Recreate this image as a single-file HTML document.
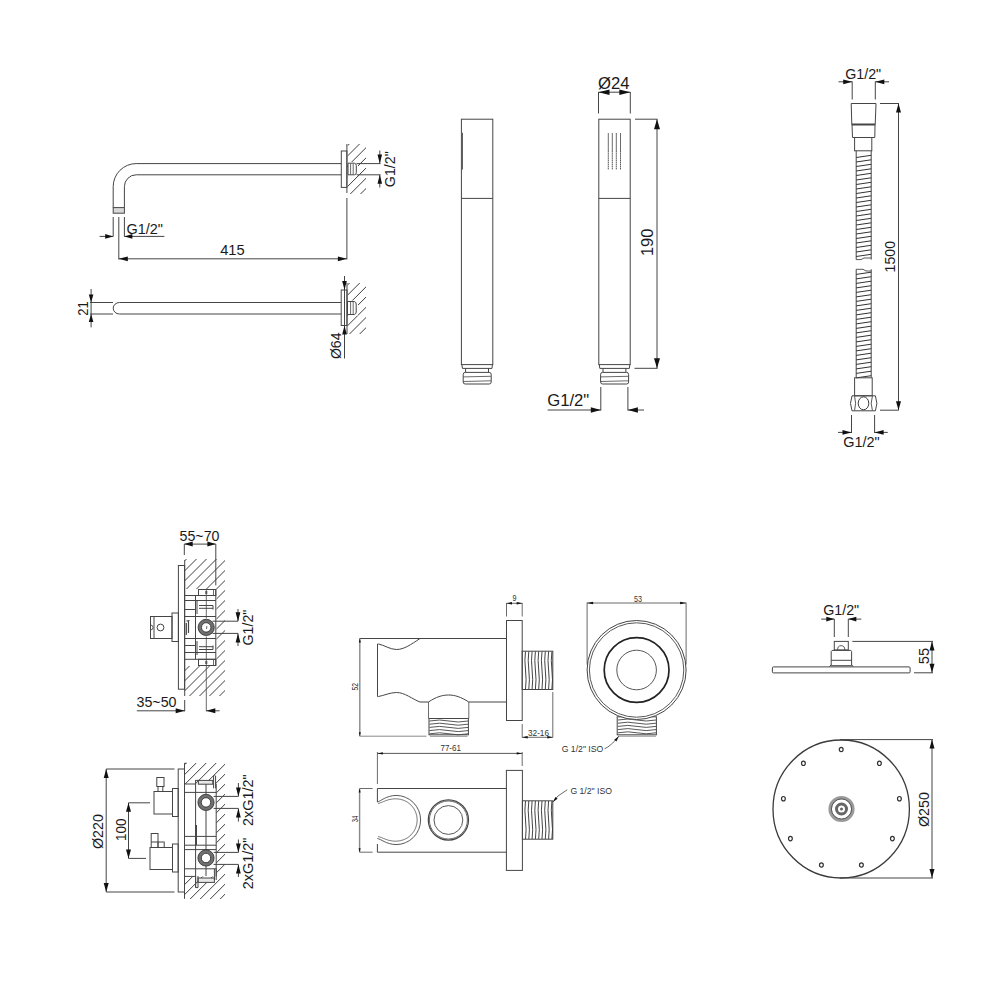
<!DOCTYPE html>
<html><head><meta charset="utf-8"><style>
html,body{margin:0;padding:0;background:#fff;}
svg{display:block;font-family:"Liberation Sans",sans-serif;}
</style></head><body>
<svg width="1000" height="1000" viewBox="0 0 1000 1000">
<defs><clipPath id="h1"><path d="M347.8,144 L366,144 L366,194 L347.8,194 Z M347,162 L347,176 L358,176 L358,162 Z" clip-rule="evenodd"/></clipPath><clipPath id="h2"><path d="M347.8,283 L366,283 L366,334 L347.8,334 Z M347,300.5 L347,315.5 L358,315.5 L358,300.5 Z" clip-rule="evenodd"/></clipPath><clipPath id="v1"><path d="M185,559 L225,559 L225,696 L185,696 Z M184,589 L216.5,589 L216.5,666 L184,666 Z" clip-rule="evenodd"/></clipPath><clipPath id="v2"><path d="M185,763 L225,763 L225,899 L185,899 Z M184,784 L216.3,784 L216.3,876.4 L184,876.4 Z" clip-rule="evenodd"/></clipPath></defs>
<rect x="0" y="0" width="1000" height="1000" fill="#fff"/>
<path d="M341.3,163.6 L136.2,163.6 A23,23 0 0 0 113.2,186.6 L113.2,207.6" fill="none" stroke="#454545" stroke-width="1.0"/>
<path d="M341.3,174.8 L136.2,174.8 A11.8,11.8 0 0 0 124.4,186.6 L124.4,207.6" fill="none" stroke="#454545" stroke-width="1.0"/>
<rect x="113.2" y="207.6" width="11.2" height="5.6" fill="#d8d8d8" stroke="#454545" stroke-width="1.0"/>
<rect x="341.3" y="151" width="5.6" height="36.4" fill="none" stroke="#454545" stroke-width="1.0"/>
<line x1="346.9" y1="144" x2="346.9" y2="193" stroke="#454545" stroke-width="1.0"/>
<line x1="346.9" y1="198" x2="346.9" y2="259.5" stroke="#454545" stroke-width="1.0"/>
<path d="M348,163.2 L354.5,163.2 Q356.3,163.5 356.3,165.5 L356.3,172.6 Q356.3,174.6 354.5,174.8 L348,174.8 Z" fill="none" stroke="#454545" stroke-width="1.0"/>
<line x1="350.6" y1="163.8" x2="350.6" y2="174.4" stroke="#454545" stroke-width="0.8"/>
<line x1="353.2" y1="163.8" x2="353.2" y2="174.4" stroke="#454545" stroke-width="0.8"/>
<g clip-path="url(#h1)">
<line x1="284.1" y1="199" x2="344.1" y2="139" stroke="#333" stroke-width="0.95"/>
<line x1="294.3" y1="199" x2="354.3" y2="139" stroke="#333" stroke-width="0.95"/>
<line x1="304.5" y1="199" x2="364.5" y2="139" stroke="#333" stroke-width="0.95"/>
<line x1="314.7" y1="199" x2="374.7" y2="139" stroke="#333" stroke-width="0.95"/>
<line x1="324.9" y1="199" x2="384.9" y2="139" stroke="#333" stroke-width="0.95"/>
<line x1="335.1" y1="199" x2="395.1" y2="139" stroke="#333" stroke-width="0.95"/>
<line x1="345.3" y1="199" x2="405.3" y2="139" stroke="#333" stroke-width="0.95"/>
<line x1="355.5" y1="199" x2="415.5" y2="139" stroke="#333" stroke-width="0.95"/>
<line x1="365.7" y1="199" x2="425.7" y2="139" stroke="#333" stroke-width="0.95"/>
</g>
<line x1="356.5" y1="163.6" x2="380.5" y2="163.6" stroke="#454545" stroke-width="1.0"/>
<line x1="356.5" y1="174.8" x2="380.5" y2="174.8" stroke="#454545" stroke-width="1.0"/>
<line x1="379.8" y1="150.5" x2="379.8" y2="163.6" stroke="#454545" stroke-width="1.0"/>
<line x1="379.8" y1="174.8" x2="379.8" y2="187.5" stroke="#454545" stroke-width="1.0"/>
<polygon points="379.8,163.6 377.5,154.6 382.1,154.6" fill="#111"/>
<polygon points="379.8,174.8 377.5,183.8 382.1,183.8" fill="#111"/>
<text x="389.5" y="174.42" font-size="14.5" text-anchor="middle" fill="#1a1a1a" textLength="36" lengthAdjust="spacingAndGlyphs" transform="rotate(-90 389.5 169.2)">G1/2&quot;</text>
<line x1="118.8" y1="217" x2="118.8" y2="259.5" stroke="#454545" stroke-width="1.0"/>
<line x1="118.8" y1="258.8" x2="346.9" y2="258.8" stroke="#454545" stroke-width="1.0"/>
<polygon points="118.8,258.8 127.8,256.4 127.8,261.2" fill="#111"/>
<polygon points="346.9,258.8 337.9,256.4 337.9,261.2" fill="#111"/>
<text x="232.4" y="254.8" font-size="14.5" text-anchor="middle" fill="#1a1a1a" textLength="24.5" lengthAdjust="spacingAndGlyphs">415</text>
<line x1="113.2" y1="217" x2="113.2" y2="236.5" stroke="#454545" stroke-width="1.0"/>
<line x1="124.4" y1="217" x2="124.4" y2="236.5" stroke="#454545" stroke-width="1.0"/>
<line x1="99.6" y1="236.4" x2="113.2" y2="236.4" stroke="#454545" stroke-width="1.0"/>
<line x1="124.4" y1="236.4" x2="164.4" y2="236.4" stroke="#454545" stroke-width="1.0"/>
<polygon points="113.2,236.4 105.2,234.1 105.2,238.7" fill="#111"/>
<polygon points="124.4,236.4 132.4,234.1 132.4,238.7" fill="#111"/>
<text x="126.5" y="234.2" font-size="14.5" text-anchor="start" fill="#1a1a1a" textLength="36.5" lengthAdjust="spacingAndGlyphs">G1/2&quot;</text>
<line x1="119.5" y1="302.5" x2="341.2" y2="302.5" stroke="#454545" stroke-width="1.0"/>
<line x1="119.5" y1="314" x2="341.2" y2="314" stroke="#454545" stroke-width="1.0"/>
<path d="M119.5,302.5 A6.3,5.75 0 0 0 119.5,314" fill="none" stroke="#454545" stroke-width="1.0"/>
<line x1="90" y1="302.5" x2="113" y2="302.5" stroke="#454545" stroke-width="1.0"/>
<line x1="90" y1="314" x2="113" y2="314" stroke="#454545" stroke-width="1.0"/>
<line x1="91.1" y1="289" x2="91.1" y2="327.4" stroke="#454545" stroke-width="1.0"/>
<polygon points="91.1,302.5 88.8,294.5 93.4,294.5" fill="#111"/>
<polygon points="91.1,314 88.8,322 93.4,322" fill="#111"/>
<text x="82.4" y="313.72" font-size="14.5" text-anchor="middle" fill="#1a1a1a" textLength="14.5" lengthAdjust="spacingAndGlyphs" transform="rotate(-90 82.4 308.5)">21</text>
<rect x="341.2" y="290" width="5.8" height="35.5" fill="none" stroke="#454545" stroke-width="1.0"/>
<line x1="347" y1="283" x2="347" y2="334" stroke="#454545" stroke-width="1.0"/>
<path d="M347.5,301.5 L354.3,301.5 Q356.2,302 356.2,304 L356.2,312 Q356.2,314 354.3,314.5 L347.5,314.5 Z" fill="none" stroke="#454545" stroke-width="1.0"/>
<line x1="350.6" y1="302" x2="350.6" y2="314" stroke="#454545" stroke-width="0.8"/>
<line x1="353.2" y1="302" x2="353.2" y2="314" stroke="#454545" stroke-width="0.8"/>
<g clip-path="url(#h2)">
<line x1="283.3" y1="339" x2="344.3" y2="278" stroke="#333" stroke-width="0.95"/>
<line x1="293.5" y1="339" x2="354.5" y2="278" stroke="#333" stroke-width="0.95"/>
<line x1="303.7" y1="339" x2="364.7" y2="278" stroke="#333" stroke-width="0.95"/>
<line x1="313.9" y1="339" x2="374.9" y2="278" stroke="#333" stroke-width="0.95"/>
<line x1="324.1" y1="339" x2="385.1" y2="278" stroke="#333" stroke-width="0.95"/>
<line x1="334.3" y1="339" x2="395.3" y2="278" stroke="#333" stroke-width="0.95"/>
<line x1="344.5" y1="339" x2="405.5" y2="278" stroke="#333" stroke-width="0.95"/>
<line x1="354.7" y1="339" x2="415.7" y2="278" stroke="#333" stroke-width="0.95"/>
<line x1="364.9" y1="339" x2="425.9" y2="278" stroke="#333" stroke-width="0.95"/>
</g>
<line x1="344.5" y1="276" x2="344.5" y2="358.5" stroke="#454545" stroke-width="1.0"/>
<polygon points="344.5,290 342.2,281 346.8,281" fill="#111"/>
<polygon points="344.5,325.5 342.2,334.5 346.8,334.5" fill="#111"/>
<text x="335.8" y="351.02" font-size="14.5" text-anchor="middle" fill="#1a1a1a" textLength="26.5" lengthAdjust="spacingAndGlyphs" transform="rotate(-90 335.8 345.8)">Ø64</text>
<rect x="461.4" y="119.2" width="31.4" height="245.4" fill="none" stroke="#454545" stroke-width="1.0"/>
<line x1="461.4" y1="198.4" x2="492.8" y2="198.4" stroke="#454545" stroke-width="1.0"/>
<path d="M461.9,364.6 L462.4,368.4 L492,368.4 L492.4,364.6" fill="none" stroke="#454545" stroke-width="1.0"/>
<line x1="465.6" y1="368.4" x2="465.6" y2="372.4" stroke="#454545" stroke-width="1.0"/>
<line x1="488.5" y1="368.4" x2="488.5" y2="372.4" stroke="#454545" stroke-width="1.0"/>
<rect x="463.2" y="372.4" width="28" height="11.6" fill="none" stroke="#454545" stroke-width="1.0" rx="2"/>
<line x1="463.4" y1="376.9" x2="490.9" y2="376.3" stroke="#454545" stroke-width="0.8"/>
<line x1="463.4" y1="381.5" x2="490.9" y2="380.8" stroke="#454545" stroke-width="0.8"/>
<line x1="462.2" y1="132.8" x2="462.2" y2="169.6" stroke="#606060" stroke-width="1.6"/>
<rect x="598.8" y="119.2" width="31.4" height="245.4" fill="none" stroke="#454545" stroke-width="1.0"/>
<line x1="598.8" y1="198.4" x2="630.2" y2="198.4" stroke="#454545" stroke-width="1.0"/>
<path d="M599.3,364.6 L599.8,368.4 L629.4,368.4 L629.8,364.6" fill="none" stroke="#454545" stroke-width="1.0"/>
<line x1="603" y1="368.4" x2="603" y2="372.4" stroke="#454545" stroke-width="1.0"/>
<line x1="625.9" y1="368.4" x2="625.9" y2="372.4" stroke="#454545" stroke-width="1.0"/>
<rect x="600.6" y="372.4" width="28" height="11.6" fill="none" stroke="#454545" stroke-width="1.0" rx="2"/>
<line x1="600.8" y1="376.9" x2="628.3" y2="376.3" stroke="#454545" stroke-width="0.8"/>
<line x1="600.8" y1="381.5" x2="628.3" y2="380.8" stroke="#454545" stroke-width="0.8"/>
<line x1="608.3" y1="133" x2="608.3" y2="151" stroke="#454545" stroke-width="0.8"/>
<line x1="608.3" y1="151" x2="608.3" y2="169.5" stroke="#454545" stroke-width="0.9" stroke-dasharray="1.6 0.5"/>
<line x1="612.3" y1="133" x2="612.3" y2="151" stroke="#454545" stroke-width="0.8"/>
<line x1="612.3" y1="151" x2="612.3" y2="169.5" stroke="#454545" stroke-width="0.9" stroke-dasharray="1.6 0.5"/>
<line x1="616.3" y1="133" x2="616.3" y2="151" stroke="#454545" stroke-width="0.8"/>
<line x1="616.3" y1="151" x2="616.3" y2="169.5" stroke="#454545" stroke-width="0.9" stroke-dasharray="1.6 0.5"/>
<line x1="620.5" y1="133" x2="620.5" y2="151" stroke="#454545" stroke-width="0.8"/>
<line x1="620.5" y1="151" x2="620.5" y2="169.5" stroke="#454545" stroke-width="0.9" stroke-dasharray="1.6 0.5"/>
<line x1="598.5" y1="92" x2="598.5" y2="113.5" stroke="#454545" stroke-width="1.0"/>
<line x1="630.3" y1="92" x2="630.3" y2="113.5" stroke="#454545" stroke-width="1.0"/>
<line x1="598.5" y1="92.2" x2="630.3" y2="92.2" stroke="#454545" stroke-width="1.0"/>
<polygon points="598.5,92.2 609.5,89.5 609.5,94.9" fill="#111"/>
<polygon points="630.3,92.2 619.3,89.5 619.3,94.9" fill="#111"/>
<text x="598" y="89" font-size="17" text-anchor="start" fill="#1a1a1a" textLength="31.5" lengthAdjust="spacingAndGlyphs">Ø24</text>
<line x1="635" y1="119.2" x2="657.5" y2="119.2" stroke="#454545" stroke-width="1.0"/>
<line x1="657" y1="119.2" x2="657" y2="368.3" stroke="#454545" stroke-width="1.0"/>
<line x1="634.5" y1="368.3" x2="657.6" y2="368.3" stroke="#454545" stroke-width="1.0"/>
<polygon points="657,119.2 654,129.2 660,129.2" fill="#111"/>
<polygon points="657,368.3 654,358.3 660,358.3" fill="#111"/>
<text x="647.2" y="248.42" font-size="17" text-anchor="middle" fill="#1a1a1a" textLength="27.5" lengthAdjust="spacingAndGlyphs" transform="rotate(-90 647.2 242.3)">190</text>
<line x1="600.8" y1="387" x2="600.8" y2="410.5" stroke="#454545" stroke-width="1.0"/>
<line x1="627.9" y1="387" x2="627.9" y2="410.5" stroke="#454545" stroke-width="1.0"/>
<line x1="547.6" y1="410" x2="600.8" y2="410" stroke="#454545" stroke-width="1.0"/>
<line x1="627.9" y1="410" x2="644" y2="410" stroke="#454545" stroke-width="1.0"/>
<polygon points="600.8,410 590.8,407.3 590.8,412.7" fill="#111"/>
<polygon points="627.9,410 637.9,407.3 637.9,412.7" fill="#111"/>
<text x="547.2" y="405.7" font-size="17" text-anchor="start" fill="#1a1a1a" textLength="42" lengthAdjust="spacingAndGlyphs">G1/2&quot;</text>
<polygon points="851.2,103.5 876,103.5 875.2,124.5 851.8,124.5" fill="none" stroke="#454545" stroke-width="1.0"/>
<line x1="851.8" y1="124.5" x2="875.2" y2="124.5" stroke="#454545" stroke-width="2"/>
<polyline points="852,124.5 852.5,137.5 874.8,137.5 875,124.5" fill="none" stroke="#454545" stroke-width="1.0"/>
<rect x="854.6" y="137.5" width="17.2" height="13.3" fill="none" stroke="#454545" stroke-width="1.0"/>
<line x1="856.2" y1="150.8" x2="856.2" y2="259.6" stroke="#454545" stroke-width="1.0"/>
<line x1="871.2" y1="150.8" x2="871.2" y2="259.6" stroke="#454545" stroke-width="1.0"/>
<line x1="856.2" y1="157.5" x2="871.2" y2="155.3" stroke="#333" stroke-width="1.0"/>
<line x1="856.2" y1="162" x2="871.2" y2="159.8" stroke="#333" stroke-width="1.0"/>
<line x1="856.2" y1="166.5" x2="871.2" y2="164.3" stroke="#333" stroke-width="1.0"/>
<line x1="856.2" y1="171" x2="871.2" y2="168.8" stroke="#333" stroke-width="1.0"/>
<line x1="856.2" y1="175.5" x2="871.2" y2="173.3" stroke="#333" stroke-width="1.0"/>
<line x1="856.2" y1="180" x2="871.2" y2="177.8" stroke="#333" stroke-width="1.0"/>
<line x1="856.2" y1="184.5" x2="871.2" y2="182.3" stroke="#333" stroke-width="1.0"/>
<line x1="856.2" y1="189" x2="871.2" y2="186.8" stroke="#333" stroke-width="1.0"/>
<line x1="856.2" y1="193.5" x2="871.2" y2="191.3" stroke="#333" stroke-width="1.0"/>
<line x1="856.2" y1="198" x2="871.2" y2="195.8" stroke="#333" stroke-width="1.0"/>
<line x1="856.2" y1="202.5" x2="871.2" y2="200.3" stroke="#333" stroke-width="1.0"/>
<line x1="856.2" y1="207" x2="871.2" y2="204.8" stroke="#333" stroke-width="1.0"/>
<line x1="856.2" y1="211.5" x2="871.2" y2="209.3" stroke="#333" stroke-width="1.0"/>
<line x1="856.2" y1="216" x2="871.2" y2="213.8" stroke="#333" stroke-width="1.0"/>
<line x1="856.2" y1="220.5" x2="871.2" y2="218.3" stroke="#333" stroke-width="1.0"/>
<line x1="856.2" y1="225" x2="871.2" y2="222.8" stroke="#333" stroke-width="1.0"/>
<line x1="856.2" y1="229.5" x2="871.2" y2="227.3" stroke="#333" stroke-width="1.0"/>
<line x1="856.2" y1="234" x2="871.2" y2="231.8" stroke="#333" stroke-width="1.0"/>
<line x1="856.2" y1="238.5" x2="871.2" y2="236.3" stroke="#333" stroke-width="1.0"/>
<line x1="856.2" y1="243" x2="871.2" y2="240.8" stroke="#333" stroke-width="1.0"/>
<line x1="856.2" y1="247.5" x2="871.2" y2="245.3" stroke="#333" stroke-width="1.0"/>
<line x1="856.2" y1="252" x2="871.2" y2="249.8" stroke="#333" stroke-width="1.0"/>
<line x1="856.2" y1="256.5" x2="871.2" y2="254.3" stroke="#333" stroke-width="1.0"/>
<path d="M856.2,259.6 L861,259.6 L864,258 L871.2,258" fill="none" stroke="#454545" stroke-width="0.9"/>
<line x1="856.2" y1="269.3" x2="856.2" y2="377.5" stroke="#454545" stroke-width="1.0"/>
<line x1="871.2" y1="269.3" x2="871.2" y2="377.5" stroke="#454545" stroke-width="1.0"/>
<line x1="856.2" y1="274.4" x2="871.2" y2="272.2" stroke="#333" stroke-width="1.0"/>
<line x1="856.2" y1="278.9" x2="871.2" y2="276.7" stroke="#333" stroke-width="1.0"/>
<line x1="856.2" y1="283.4" x2="871.2" y2="281.2" stroke="#333" stroke-width="1.0"/>
<line x1="856.2" y1="287.9" x2="871.2" y2="285.7" stroke="#333" stroke-width="1.0"/>
<line x1="856.2" y1="292.4" x2="871.2" y2="290.2" stroke="#333" stroke-width="1.0"/>
<line x1="856.2" y1="296.9" x2="871.2" y2="294.7" stroke="#333" stroke-width="1.0"/>
<line x1="856.2" y1="301.4" x2="871.2" y2="299.2" stroke="#333" stroke-width="1.0"/>
<line x1="856.2" y1="305.9" x2="871.2" y2="303.7" stroke="#333" stroke-width="1.0"/>
<line x1="856.2" y1="310.4" x2="871.2" y2="308.2" stroke="#333" stroke-width="1.0"/>
<line x1="856.2" y1="314.9" x2="871.2" y2="312.7" stroke="#333" stroke-width="1.0"/>
<line x1="856.2" y1="319.4" x2="871.2" y2="317.2" stroke="#333" stroke-width="1.0"/>
<line x1="856.2" y1="323.9" x2="871.2" y2="321.7" stroke="#333" stroke-width="1.0"/>
<line x1="856.2" y1="328.4" x2="871.2" y2="326.2" stroke="#333" stroke-width="1.0"/>
<line x1="856.2" y1="332.9" x2="871.2" y2="330.7" stroke="#333" stroke-width="1.0"/>
<line x1="856.2" y1="337.4" x2="871.2" y2="335.2" stroke="#333" stroke-width="1.0"/>
<line x1="856.2" y1="341.9" x2="871.2" y2="339.7" stroke="#333" stroke-width="1.0"/>
<line x1="856.2" y1="346.4" x2="871.2" y2="344.2" stroke="#333" stroke-width="1.0"/>
<line x1="856.2" y1="350.9" x2="871.2" y2="348.7" stroke="#333" stroke-width="1.0"/>
<line x1="856.2" y1="355.4" x2="871.2" y2="353.2" stroke="#333" stroke-width="1.0"/>
<line x1="856.2" y1="359.9" x2="871.2" y2="357.7" stroke="#333" stroke-width="1.0"/>
<line x1="856.2" y1="364.4" x2="871.2" y2="362.2" stroke="#333" stroke-width="1.0"/>
<line x1="856.2" y1="368.9" x2="871.2" y2="366.7" stroke="#333" stroke-width="1.0"/>
<line x1="856.2" y1="373.4" x2="871.2" y2="371.2" stroke="#333" stroke-width="1.0"/>
<line x1="856.2" y1="377.9" x2="871.2" y2="375.7" stroke="#333" stroke-width="1.0"/>
<path d="M856.2,269.3 L863,269.3 L866,271 L871.2,271" fill="none" stroke="#454545" stroke-width="0.9"/>
<rect x="854.6" y="377.8" width="17.6" height="18" fill="none" stroke="#454545" stroke-width="1.0"/>
<path d="M852,395.8 L875.4,395.8 Q878.4,403.3 875.4,410.8 L852,410.8 Q849,403.3 852,395.8 Z" fill="none" stroke="#454545" stroke-width="1.0"/>
<ellipse cx="863.5" cy="403.3" rx="5.3" ry="6.5" fill="none" stroke="#3a3a3a" stroke-width="1"/>
<path d="M854.6,396.2 Q856.6,403.3 854.6,410.4" fill="none" stroke="#454545" stroke-width="0.9"/>
<path d="M872.4,396.2 Q870,403.3 872.4,410.4" fill="none" stroke="#454545" stroke-width="0.9"/>
<line x1="880" y1="103.5" x2="899" y2="103.5" stroke="#454545" stroke-width="1.0"/>
<line x1="898.5" y1="103.5" x2="898.5" y2="410.2" stroke="#454545" stroke-width="1.0"/>
<line x1="880" y1="410.2" x2="898.6" y2="410.2" stroke="#454545" stroke-width="1.0"/>
<polygon points="898.5,103.5 896,112.5 901,112.5" fill="#111"/>
<polygon points="898.5,410.2 896,401.2 901,401.2" fill="#111"/>
<text x="890" y="261.92" font-size="14.5" text-anchor="middle" fill="#1a1a1a" textLength="31.5" lengthAdjust="spacingAndGlyphs" transform="rotate(-90 890 256.7)">1500</text>
<line x1="852.2" y1="81.5" x2="852.2" y2="99.5" stroke="#454545" stroke-width="1.0"/>
<line x1="875.3" y1="81.5" x2="875.3" y2="99.5" stroke="#454545" stroke-width="1.0"/>
<line x1="838.5" y1="81.8" x2="852.2" y2="81.8" stroke="#454545" stroke-width="1.0"/>
<line x1="875.3" y1="81.8" x2="889" y2="81.8" stroke="#454545" stroke-width="1.0"/>
<polygon points="852.2,81.8 843.2,79.4 843.2,84.2" fill="#111"/>
<polygon points="875.3,81.8 884.3,79.4 884.3,84.2" fill="#111"/>
<text x="845.2" y="79" font-size="14.5" text-anchor="start" fill="#1a1a1a" textLength="36" lengthAdjust="spacingAndGlyphs">G1/2&quot;</text>
<line x1="851.5" y1="415" x2="851.5" y2="433" stroke="#454545" stroke-width="1.0"/>
<line x1="874.6" y1="415" x2="874.6" y2="433" stroke="#454545" stroke-width="1.0"/>
<line x1="838" y1="432.4" x2="851.5" y2="432.4" stroke="#454545" stroke-width="1.0"/>
<line x1="874.6" y1="432.4" x2="887.8" y2="432.4" stroke="#454545" stroke-width="1.0"/>
<polygon points="851.5,432.4 842.5,430 842.5,434.8" fill="#111"/>
<polygon points="874.6,432.4 883.6,430 883.6,434.8" fill="#111"/>
<text x="843.2" y="447.4" font-size="14.5" text-anchor="start" fill="#1a1a1a" textLength="36.5" lengthAdjust="spacingAndGlyphs">G1/2&quot;</text>
<g clip-path="url(#v1)">
<line x1="34.5" y1="701" x2="181.5" y2="554" stroke="#333" stroke-width="0.95"/>
<line x1="44.5" y1="701" x2="191.5" y2="554" stroke="#333" stroke-width="0.95"/>
<line x1="54.5" y1="701" x2="201.5" y2="554" stroke="#333" stroke-width="0.95"/>
<line x1="64.5" y1="701" x2="211.5" y2="554" stroke="#333" stroke-width="0.95"/>
<line x1="74.5" y1="701" x2="221.5" y2="554" stroke="#333" stroke-width="0.95"/>
<line x1="84.5" y1="701" x2="231.5" y2="554" stroke="#333" stroke-width="0.95"/>
<line x1="94.5" y1="701" x2="241.5" y2="554" stroke="#333" stroke-width="0.95"/>
<line x1="104.5" y1="701" x2="251.5" y2="554" stroke="#333" stroke-width="0.95"/>
<line x1="114.5" y1="701" x2="261.5" y2="554" stroke="#333" stroke-width="0.95"/>
<line x1="124.5" y1="701" x2="271.5" y2="554" stroke="#333" stroke-width="0.95"/>
<line x1="134.5" y1="701" x2="281.5" y2="554" stroke="#333" stroke-width="0.95"/>
<line x1="144.5" y1="701" x2="291.5" y2="554" stroke="#333" stroke-width="0.95"/>
<line x1="154.5" y1="701" x2="301.5" y2="554" stroke="#333" stroke-width="0.95"/>
<line x1="164.5" y1="701" x2="311.5" y2="554" stroke="#333" stroke-width="0.95"/>
<line x1="174.5" y1="701" x2="321.5" y2="554" stroke="#333" stroke-width="0.95"/>
<line x1="184.5" y1="701" x2="331.5" y2="554" stroke="#333" stroke-width="0.95"/>
<line x1="194.5" y1="701" x2="341.5" y2="554" stroke="#333" stroke-width="0.95"/>
<line x1="204.5" y1="701" x2="351.5" y2="554" stroke="#333" stroke-width="0.95"/>
<line x1="214.5" y1="701" x2="361.5" y2="554" stroke="#333" stroke-width="0.95"/>
<line x1="224.5" y1="701" x2="371.5" y2="554" stroke="#333" stroke-width="0.95"/>
</g>
<text x="179.5" y="541" font-size="14.5" text-anchor="start" fill="#1a1a1a" textLength="40" lengthAdjust="spacingAndGlyphs">55~70</text>
<line x1="184.3" y1="544.1" x2="215.8" y2="544.1" stroke="#454545" stroke-width="1.0"/>
<polygon points="184.3,544.1 192.7,541.6 192.7,546.6" fill="#111"/>
<polygon points="215.8,544.1 207.4,541.6 207.4,546.6" fill="#111"/>
<line x1="184.3" y1="544" x2="184.3" y2="555" stroke="#454545" stroke-width="1.0"/>
<line x1="184.7" y1="560" x2="184.7" y2="696" stroke="#454545" stroke-width="1.0"/>
<line x1="184.7" y1="700" x2="184.7" y2="711.4" stroke="#454545" stroke-width="1.0"/>
<line x1="215.8" y1="544" x2="215.8" y2="585.4" stroke="#454545" stroke-width="1.0"/>
<rect x="178.4" y="565.5" width="6.2" height="123.7" fill="none" stroke="#454545" stroke-width="1.0"/>
<rect x="172" y="613" width="6.4" height="28.5" fill="none" stroke="#454545" stroke-width="1.0"/>
<rect x="150.5" y="616.5" width="21.5" height="22" fill="none" stroke="#454545" stroke-width="1.0"/>
<line x1="154" y1="616.5" x2="154" y2="638.5" stroke="#454545" stroke-width="1.0"/>
<circle cx="160.5" cy="627.5" r="3.4" fill="none" stroke="#454545" stroke-width="1.0"/>
<path d="M150.5,625 A2.5,2.5 0 0 1 150.5,630" fill="none" stroke="#454545" stroke-width="0.9"/>
<rect x="198.5" y="589.5" width="17.3" height="6" fill="none" stroke="#454545" stroke-width="1.0"/>
<line x1="213.5" y1="589.5" x2="213.5" y2="595.5" stroke="#454545" stroke-width="0.8"/>
<rect x="198.5" y="659.3" width="17.3" height="6.2" fill="none" stroke="#454545" stroke-width="1.0"/>
<line x1="213.5" y1="659.3" x2="213.5" y2="665.5" stroke="#454545" stroke-width="0.8"/>
<line x1="215.8" y1="589.5" x2="215.8" y2="665.5" stroke="#454545" stroke-width="1.0"/>
<line x1="184.7" y1="595.5" x2="215.8" y2="595.5" stroke="#454545" stroke-width="1.0"/>
<line x1="184.7" y1="600.5" x2="215.8" y2="600.5" stroke="#454545" stroke-width="1.0"/>
<line x1="184.7" y1="616.5" x2="215.8" y2="616.5" stroke="#454545" stroke-width="1.0"/>
<line x1="184.7" y1="638.5" x2="215.8" y2="638.5" stroke="#454545" stroke-width="1.0"/>
<line x1="184.7" y1="652.5" x2="215.8" y2="652.5" stroke="#454545" stroke-width="1.0"/>
<line x1="184.7" y1="659.3" x2="215.8" y2="659.3" stroke="#454545" stroke-width="1.0"/>
<line x1="184.7" y1="609.5" x2="195.5" y2="609.5" stroke="#454545" stroke-width="1.0"/>
<line x1="184.7" y1="645.5" x2="195.5" y2="645.5" stroke="#454545" stroke-width="1.0"/>
<line x1="195.5" y1="595.5" x2="195.5" y2="659.5" stroke="#454545" stroke-width="1.0"/>
<line x1="206.3" y1="590" x2="206.3" y2="618.5" stroke="#454545" stroke-width="0.8"/>
<line x1="206.3" y1="636.5" x2="206.3" y2="711.4" stroke="#454545" stroke-width="0.8"/>
<path d="M197,600 L197,614 M199,605.5 L213,605.5 L213,609.5 M199,608.3 L213,608.3" fill="none" stroke="#454545" stroke-width="1"/>
<path d="M197,641 L197,655 M199,649.5 L213,649.5 L213,645.5 M199,646.7 L213,646.7" fill="none" stroke="#454545" stroke-width="1"/>
<path d="M186.5,621 L189.5,620.5 M188.5,620.5 L188.5,633 M186.3,623 L186.3,635" fill="none" stroke="#454545" stroke-width="1.2"/>
<line x1="206.3" y1="591" x2="206.3" y2="594" stroke="#555" stroke-width="2"/>
<line x1="206.3" y1="661" x2="206.3" y2="664" stroke="#555" stroke-width="2"/>
<circle cx="206.2" cy="627.4" r="6.4" fill="#fff" stroke="#707070" stroke-width="3.4"/>
<circle cx="206.2" cy="627.4" r="8.1" fill="none" stroke="#2a2a2a" stroke-width="0.8"/>
<circle cx="206.2" cy="627.4" r="4.7" fill="none" stroke="#2a2a2a" stroke-width="0.8"/>
<line x1="206.8" y1="626" x2="206.6" y2="629" stroke="#454545" stroke-width="0.8"/>
<line x1="212.5" y1="621.2" x2="238" y2="621.2" stroke="#454545" stroke-width="1.0"/>
<line x1="212.5" y1="633.4" x2="238" y2="633.4" stroke="#454545" stroke-width="1.0"/>
<line x1="238" y1="609" x2="238" y2="621.2" stroke="#454545" stroke-width="1.0"/>
<line x1="238" y1="633.4" x2="238" y2="646" stroke="#454545" stroke-width="1.0"/>
<polygon points="238,621.2 235.6,612.2 240.4,612.2" fill="#111"/>
<polygon points="238,633.4 235.6,642.4 240.4,642.4" fill="#111"/>
<text x="247.5" y="632.82" font-size="14.5" text-anchor="middle" fill="#1a1a1a" textLength="36" lengthAdjust="spacingAndGlyphs" transform="rotate(-90 247.5 627.6)">G1/2&quot;</text>
<text x="136.5" y="707.2" font-size="14.5" text-anchor="start" fill="#1a1a1a" textLength="40" lengthAdjust="spacingAndGlyphs">35~50</text>
<line x1="136.8" y1="710.8" x2="184.7" y2="710.8" stroke="#454545" stroke-width="1.0"/>
<polygon points="184.7,710.8 175.7,708.3 175.7,713.3" fill="#111"/>
<line x1="206.3" y1="710.8" x2="219.6" y2="710.8" stroke="#454545" stroke-width="1.0"/>
<polygon points="206.3,710.8 215.3,708.3 215.3,713.3" fill="#111"/>
<g clip-path="url(#v2)">
<line x1="35.2" y1="904" x2="181.2" y2="758" stroke="#333" stroke-width="0.95"/>
<line x1="45.2" y1="904" x2="191.2" y2="758" stroke="#333" stroke-width="0.95"/>
<line x1="55.2" y1="904" x2="201.2" y2="758" stroke="#333" stroke-width="0.95"/>
<line x1="65.2" y1="904" x2="211.2" y2="758" stroke="#333" stroke-width="0.95"/>
<line x1="75.2" y1="904" x2="221.2" y2="758" stroke="#333" stroke-width="0.95"/>
<line x1="85.2" y1="904" x2="231.2" y2="758" stroke="#333" stroke-width="0.95"/>
<line x1="95.2" y1="904" x2="241.2" y2="758" stroke="#333" stroke-width="0.95"/>
<line x1="105.2" y1="904" x2="251.2" y2="758" stroke="#333" stroke-width="0.95"/>
<line x1="115.2" y1="904" x2="261.2" y2="758" stroke="#333" stroke-width="0.95"/>
<line x1="125.2" y1="904" x2="271.2" y2="758" stroke="#333" stroke-width="0.95"/>
<line x1="135.2" y1="904" x2="281.2" y2="758" stroke="#333" stroke-width="0.95"/>
<line x1="145.2" y1="904" x2="291.2" y2="758" stroke="#333" stroke-width="0.95"/>
<line x1="155.2" y1="904" x2="301.2" y2="758" stroke="#333" stroke-width="0.95"/>
<line x1="165.2" y1="904" x2="311.2" y2="758" stroke="#333" stroke-width="0.95"/>
<line x1="175.2" y1="904" x2="321.2" y2="758" stroke="#333" stroke-width="0.95"/>
<line x1="185.2" y1="904" x2="331.2" y2="758" stroke="#333" stroke-width="0.95"/>
<line x1="195.2" y1="904" x2="341.2" y2="758" stroke="#333" stroke-width="0.95"/>
<line x1="205.2" y1="904" x2="351.2" y2="758" stroke="#333" stroke-width="0.95"/>
<line x1="215.2" y1="904" x2="361.2" y2="758" stroke="#333" stroke-width="0.95"/>
<line x1="225.2" y1="904" x2="371.2" y2="758" stroke="#333" stroke-width="0.95"/>
</g>
<line x1="184.5" y1="763.2" x2="184.5" y2="898.8" stroke="#454545" stroke-width="1.0"/>
<line x1="184.5" y1="763.2" x2="186.8" y2="763.2" stroke="#454545" stroke-width="0.8"/>
<rect x="178.2" y="769" width="6.3" height="123" fill="none" stroke="#454545" stroke-width="1.0"/>
<rect x="156.8" y="777.5" width="7.2" height="9" fill="none" stroke="#454545" stroke-width="1.0"/>
<rect x="158" y="786.5" width="4.8" height="5" fill="none" stroke="#454545" stroke-width="1.0"/>
<rect x="154" y="791.5" width="18.5" height="22.5" fill="none" stroke="#454545" stroke-width="1.0"/>
<rect x="172.5" y="788.5" width="5.7" height="28" fill="none" stroke="#454545" stroke-width="1.0"/>
<rect x="151.2" y="833.5" width="6.8" height="14" fill="none" stroke="#454545" stroke-width="1.0"/>
<rect x="158" y="842" width="6.2" height="5.5" fill="none" stroke="#454545" stroke-width="1.0"/>
<line x1="151.2" y1="842" x2="158" y2="842" stroke="#454545" stroke-width="1.0"/>
<rect x="150" y="847.5" width="22.5" height="22" fill="none" stroke="#454545" stroke-width="1.0"/>
<rect x="172.5" y="844" width="5.7" height="28" fill="none" stroke="#454545" stroke-width="1.0"/>
<line x1="216.2" y1="784" x2="216.2" y2="876.4" stroke="#454545" stroke-width="1.0"/>
<line x1="184.5" y1="792.4" x2="216.2" y2="792.4" stroke="#454545" stroke-width="1.0"/>
<line x1="184.5" y1="836.4" x2="216.2" y2="836.4" stroke="#454545" stroke-width="1.0"/>
<line x1="184.5" y1="845.2" x2="216.2" y2="845.2" stroke="#454545" stroke-width="1.0"/>
<line x1="184.5" y1="849.6" x2="216.2" y2="849.6" stroke="#454545" stroke-width="1.0"/>
<line x1="184.5" y1="868.8" x2="216.2" y2="868.8" stroke="#454545" stroke-width="1.0"/>
<line x1="184.5" y1="784" x2="195.6" y2="784" stroke="#454545" stroke-width="1.0"/>
<line x1="184.5" y1="876.4" x2="195.6" y2="876.4" stroke="#454545" stroke-width="1.0"/>
<line x1="195.6" y1="780" x2="195.6" y2="887.6" stroke="#454545" stroke-width="1.0"/>
<line x1="196.1" y1="825" x2="196.1" y2="845" stroke="#454545" stroke-width="1.8"/>
<line x1="206" y1="784" x2="206" y2="794" stroke="#454545" stroke-width="1.0"/>
<line x1="206" y1="810.5" x2="206" y2="850" stroke="#454545" stroke-width="1.0"/>
<line x1="206" y1="866" x2="206" y2="876" stroke="#454545" stroke-width="1.0"/>
<rect x="198.4" y="780.4" width="14.4" height="3.8" fill="#e8e8e8" stroke="#454545" stroke-width="1.0"/>
<line x1="195.6" y1="780.4" x2="198.4" y2="780.4" stroke="#454545" stroke-width="1.0"/>
<path d="M213.6,788.4 L213.6,776 Q214.6,774.2 215.6,776 L215.6,788.4" fill="none" stroke="#454545" stroke-width="1"/>
<rect x="198" y="878" width="16.4" height="4.4" fill="#e8e8e8" stroke="#454545" stroke-width="1.0"/>
<path d="M195.6,876 L195.6,887.6 L198,887.6 L198,876" fill="none" stroke="#454545" stroke-width="1"/>
<line x1="214.4" y1="868.8" x2="214.4" y2="880" stroke="#454545" stroke-width="1.0"/>
<line x1="216.2" y1="868.8" x2="216.2" y2="880" stroke="#454545" stroke-width="1.0"/>
<circle cx="206" cy="802.4" r="6.4" fill="#fff" stroke="#707070" stroke-width="3.4"/>
<circle cx="206" cy="802.4" r="8.1" fill="none" stroke="#2a2a2a" stroke-width="0.8"/>
<circle cx="206" cy="802.4" r="4.7" fill="none" stroke="#2a2a2a" stroke-width="0.8"/>
<circle cx="206" cy="858" r="6.4" fill="#fff" stroke="#707070" stroke-width="3.4"/>
<circle cx="206" cy="858" r="8.1" fill="none" stroke="#2a2a2a" stroke-width="0.8"/>
<circle cx="206" cy="858" r="4.7" fill="none" stroke="#2a2a2a" stroke-width="0.8"/>
<line x1="213.6" y1="796.4" x2="238.4" y2="796.4" stroke="#454545" stroke-width="1.0"/>
<line x1="213.6" y1="808.4" x2="238.4" y2="808.4" stroke="#454545" stroke-width="1.0"/>
<line x1="238.4" y1="783" x2="238.4" y2="796.4" stroke="#454545" stroke-width="1.0"/>
<line x1="238.4" y1="808.4" x2="238.4" y2="821.6" stroke="#454545" stroke-width="1.0"/>
<polygon points="238.4,796.4 236,787.4 240.8,787.4" fill="#111"/>
<polygon points="238.4,808.4 236,817.4 240.8,817.4" fill="#111"/>
<text x="247.6" y="805.42" font-size="14.5" text-anchor="middle" fill="#1a1a1a" textLength="51.6" lengthAdjust="spacingAndGlyphs" transform="rotate(-90 247.6 800.2)">2xG1/2&quot;</text>
<line x1="213.6" y1="852.4" x2="238.4" y2="852.4" stroke="#454545" stroke-width="1.0"/>
<line x1="213.6" y1="864.4" x2="238.4" y2="864.4" stroke="#454545" stroke-width="1.0"/>
<line x1="238.4" y1="839.5" x2="238.4" y2="852.4" stroke="#454545" stroke-width="1.0"/>
<line x1="238.4" y1="864.4" x2="238.4" y2="877" stroke="#454545" stroke-width="1.0"/>
<polygon points="238.4,852.4 236,843.4 240.8,843.4" fill="#111"/>
<polygon points="238.4,864.4 236,873.4 240.8,873.4" fill="#111"/>
<text x="247.6" y="868.62" font-size="14.5" text-anchor="middle" fill="#1a1a1a" textLength="51.6" lengthAdjust="spacingAndGlyphs" transform="rotate(-90 247.6 863.4)">2xG1/2&quot;</text>
<line x1="106.2" y1="769" x2="174.5" y2="769" stroke="#454545" stroke-width="1.0"/>
<line x1="106.2" y1="892" x2="174.5" y2="892" stroke="#454545" stroke-width="1.0"/>
<line x1="106.2" y1="769" x2="106.2" y2="892" stroke="#454545" stroke-width="1.0"/>
<polygon points="106.2,769 103.7,778 108.7,778" fill="#111"/>
<polygon points="106.2,892 103.7,883 108.7,883" fill="#111"/>
<text x="98" y="836.72" font-size="14.5" text-anchor="middle" fill="#1a1a1a" textLength="35" lengthAdjust="spacingAndGlyphs" transform="rotate(-90 98 831.5)">Ø220</text>
<line x1="128.5" y1="802.8" x2="150" y2="802.8" stroke="#454545" stroke-width="1.0"/>
<line x1="128.5" y1="858.4" x2="146" y2="858.4" stroke="#454545" stroke-width="1.0"/>
<line x1="128.5" y1="802.8" x2="128.5" y2="858.4" stroke="#454545" stroke-width="1.0"/>
<polygon points="128.5,802.8 126,811.8 131,811.8" fill="#111"/>
<polygon points="128.5,858.4 126,849.4 131,849.4" fill="#111"/>
<text x="120.7" y="835.02" font-size="14.5" text-anchor="middle" fill="#1a1a1a" textLength="22.5" lengthAdjust="spacingAndGlyphs" transform="rotate(-90 120.7 829.8)">100</text>
<line x1="359.5" y1="638.5" x2="506.5" y2="638.5" stroke="#454545" stroke-width="1.0"/>
<path d="M420,638.5 C411,644.5 404,649.5 396.5,649.5 C390,649.5 384,645 378.5,644 L377.5,644 L377.5,696.5 L378.5,696.5 C384,695.5 390,692.5 396.5,692.5 C405,692.5 412,699 420,702 L428.5,702" fill="none" stroke="#454545" stroke-width="1.0"/>
<path d="M428.5,702 C436,697 442,695 448.6,695 C455,695 461,697 468.8,702 L506.5,702" fill="none" stroke="#454545" stroke-width="1.0"/>
<line x1="428.5" y1="702" x2="428.5" y2="718.5" stroke="#454545" stroke-width="0.8"/>
<line x1="468.8" y1="702" x2="468.8" y2="718.5" stroke="#454545" stroke-width="0.8"/>
<rect x="429" y="718.5" width="39.4" height="16.3" fill="none" stroke="#454545" stroke-width="1"/>
<path d="M429.5,721 Q440,719 449,721 T468,721" fill="none" stroke="#444" stroke-width="0.9"/>
<path d="M429.5,724.2 Q440,722.2 449,724.2 T468,724.2" fill="none" stroke="#444" stroke-width="0.9"/>
<path d="M429.5,727.4 Q440,725.4 449,727.4 T468,727.4" fill="none" stroke="#444" stroke-width="0.9"/>
<path d="M429.5,730.6 Q440,728.6 449,730.6 T468,730.6" fill="none" stroke="#444" stroke-width="0.9"/>
<path d="M429.5,733.8 Q440,731.8 449,733.8 T468,733.8" fill="none" stroke="#444" stroke-width="0.9"/>
<line x1="430" y1="736.3" x2="467.5" y2="736.3" stroke="#888" stroke-width="0.9"/>
<rect x="506.5" y="620.5" width="15.7" height="100" fill="none" stroke="#454545" stroke-width="1.0"/>
<rect x="522.2" y="651.2" width="30.6" height="38.3" fill="none" stroke="#454545" stroke-width="1.0"/>
<path d="M525.5,651.5 Q524.3,660 525.5,670 T525.5,689" fill="none" stroke="#3a3a3a" stroke-width="0.95"/>
<path d="M528.8,651.5 Q527.6,660 528.8,670 T528.8,689" fill="none" stroke="#3a3a3a" stroke-width="0.95"/>
<path d="M532.1,651.5 Q530.9,660 532.1,670 T532.1,689" fill="none" stroke="#3a3a3a" stroke-width="0.95"/>
<path d="M535.4,651.5 Q534.2,660 535.4,670 T535.4,689" fill="none" stroke="#3a3a3a" stroke-width="0.95"/>
<path d="M538.7,651.5 Q537.5,660 538.7,670 T538.7,689" fill="none" stroke="#3a3a3a" stroke-width="0.95"/>
<path d="M542,651.5 Q540.8,660 542,670 T542,689" fill="none" stroke="#3a3a3a" stroke-width="0.95"/>
<path d="M545.3,651.5 Q544.1,660 545.3,670 T545.3,689" fill="none" stroke="#3a3a3a" stroke-width="0.95"/>
<path d="M548.6,651.5 Q547.4,660 548.6,670 T548.6,689" fill="none" stroke="#3a3a3a" stroke-width="0.95"/>
<path d="M551.9,651.5 Q550.7,660 551.9,670 T551.9,689" fill="none" stroke="#3a3a3a" stroke-width="0.95"/>
<line x1="359.8" y1="638.5" x2="359.8" y2="736.2" stroke="#888" stroke-width="1.4"/>
<line x1="359.8" y1="736.2" x2="426.5" y2="736.2" stroke="#888" stroke-width="1.0"/>
<polygon points="359.8,638.5 358.8,642.5 360.8,642.5" fill="#111"/>
<polygon points="359.8,736.2 358.8,732.2 360.8,732.2" fill="#111"/>
<text x="355" y="689.86" font-size="8.5" text-anchor="middle" fill="#1a1a1a" textLength="7.5" lengthAdjust="spacingAndGlyphs" transform="rotate(-90 355 686.8)">52</text>
<line x1="506.5" y1="603" x2="506.5" y2="616.5" stroke="#454545" stroke-width="0.8"/>
<line x1="522.2" y1="603" x2="522.2" y2="616.5" stroke="#454545" stroke-width="0.8"/>
<line x1="506.5" y1="603.3" x2="522.2" y2="603.3" stroke="#454545" stroke-width="0.8"/>
<polygon points="506.5,603.3 512,602.1 512,604.5" fill="#111"/>
<polygon points="522.2,603.3 516.7,602.1 516.7,604.5" fill="#111"/>
<text x="514.5" y="601" font-size="9.3" text-anchor="middle" fill="#333" textLength="4" lengthAdjust="spacingAndGlyphs">9</text>
<line x1="522.2" y1="724" x2="522.2" y2="737.5" stroke="#454545" stroke-width="0.8"/>
<line x1="552.8" y1="692" x2="552.8" y2="737.5" stroke="#454545" stroke-width="0.8"/>
<line x1="522.2" y1="737.3" x2="552.8" y2="737.3" stroke="#454545" stroke-width="0.8"/>
<polygon points="522.2,737.3 527.7,736.1 527.7,738.5" fill="#111"/>
<polygon points="552.8,737.3 547.3,736.1 547.3,738.5" fill="#111"/>
<text x="538.5" y="735.5" font-size="9.3" text-anchor="middle" fill="#333" textLength="21" lengthAdjust="spacingAndGlyphs">32-16</text>
<rect x="617.2" y="716.8" width="39.2" height="18" fill="none" stroke="#454545" stroke-width="1"/>
<path d="M618,720 Q628,718 637,720 T656,720" fill="none" stroke="#444" stroke-width="0.9"/>
<path d="M618,723.2 Q628,721.2 637,723.2 T656,723.2" fill="none" stroke="#444" stroke-width="0.9"/>
<path d="M618,726.4 Q628,724.4 637,726.4 T656,726.4" fill="none" stroke="#444" stroke-width="0.9"/>
<path d="M618,729.6 Q628,727.6 637,729.6 T656,729.6" fill="none" stroke="#444" stroke-width="0.9"/>
<path d="M618,732.8 Q628,730.8 637,732.8 T656,732.8" fill="none" stroke="#444" stroke-width="0.9"/>
<line x1="618" y1="736.2" x2="656" y2="736.2" stroke="#888" stroke-width="0.9"/>
<circle cx="636.6" cy="670" r="49.5" fill="#fff" stroke="#454545" stroke-width="1.0"/>
<circle cx="636.6" cy="670" r="47.2" fill="none" stroke="#454545" stroke-width="0.9"/>
<circle cx="636.6" cy="670" r="32.4" fill="none" stroke="#222" stroke-width="1.7"/>
<circle cx="636.6" cy="670" r="19.8" fill="none" stroke="#454545" stroke-width="0.9"/>
<line x1="587.1" y1="602.5" x2="587.1" y2="664.6" stroke="#454545" stroke-width="0.8"/>
<line x1="686.1" y1="602.5" x2="686.1" y2="664.6" stroke="#454545" stroke-width="0.8"/>
<line x1="587.1" y1="603" x2="686.1" y2="603" stroke="#454545" stroke-width="0.8"/>
<polygon points="587.1,603 593.1,601.7 593.1,604.3" fill="#111"/>
<polygon points="686.1,603 680.1,601.7 680.1,604.3" fill="#111"/>
<text x="638" y="601.6" font-size="9.3" text-anchor="middle" fill="#333" textLength="8" lengthAdjust="spacingAndGlyphs">53</text>
<path d="M604.6,748.8 Q611,746 618.8,736.2" fill="none" stroke="#454545" stroke-width="0.8"/>
<polygon points="618.8,736.2 614.28,739.63 616.47,741.38" fill="#111"/>
<text x="582.5" y="752" font-size="9.3" text-anchor="middle" fill="#333" textLength="41.6" lengthAdjust="spacingAndGlyphs">G 1/2&quot; ISO</text>
<line x1="377.4" y1="752" x2="377.4" y2="784" stroke="#454545" stroke-width="0.8"/>
<line x1="522.2" y1="752" x2="522.2" y2="766" stroke="#454545" stroke-width="0.8"/>
<line x1="377.4" y1="753.4" x2="522.2" y2="753.4" stroke="#454545" stroke-width="0.9"/>
<polygon points="377.4,753.4 382.9,752.2 382.9,754.6" fill="#111"/>
<polygon points="522.2,753.4 516.7,752.2 516.7,754.6" fill="#111"/>
<text x="450.7" y="751" font-size="9.3" text-anchor="middle" fill="#333" textLength="20.5" lengthAdjust="spacingAndGlyphs">77-61</text>
<path d="M377.4,788.5 L506.4,788.5 M377.4,852.2 L506.4,852.2 M377.4,788.5 L377.4,802 M377.4,844 L377.4,852.2" fill="none" stroke="#454545" stroke-width="1.0"/>
<path d="M377.4,802 C381,801 386,795.8 396,795.4 A24.6,24.6 0 0 1 396,844.6 C386,844.2 381,839 377.4,838.5" fill="none" stroke="#454545" stroke-width="0.9"/>
<path d="M378,803.5 C383,802.5 387,798.8 396,798.8 A21.2,21.2 0 0 1 396,841.2 C387,841.2 383,837.5 378,836.5" fill="none" stroke="#454545" stroke-width="0.7"/>
<circle cx="448.4" cy="820" r="20.1" fill="none" stroke="#454545" stroke-width="1.2"/>
<circle cx="448.4" cy="820" r="19" fill="none" stroke="#454545" stroke-width="0.8"/>
<circle cx="448.4" cy="820" r="14.4" fill="none" stroke="#454545" stroke-width="0.9"/>
<rect x="506.4" y="770.4" width="16" height="100" fill="none" stroke="#454545" stroke-width="1.0"/>
<rect x="522.4" y="800.8" width="30.4" height="38.4" fill="none" stroke="#454545" stroke-width="1.0"/>
<path d="M525.5,801 Q524.3,810 525.5,820 T525.5,839" fill="none" stroke="#3a3a3a" stroke-width="0.95"/>
<path d="M528.8,801 Q527.6,810 528.8,820 T528.8,839" fill="none" stroke="#3a3a3a" stroke-width="0.95"/>
<path d="M532.1,801 Q530.9,810 532.1,820 T532.1,839" fill="none" stroke="#3a3a3a" stroke-width="0.95"/>
<path d="M535.4,801 Q534.2,810 535.4,820 T535.4,839" fill="none" stroke="#3a3a3a" stroke-width="0.95"/>
<path d="M538.7,801 Q537.5,810 538.7,820 T538.7,839" fill="none" stroke="#3a3a3a" stroke-width="0.95"/>
<path d="M542,801 Q540.8,810 542,820 T542,839" fill="none" stroke="#3a3a3a" stroke-width="0.95"/>
<path d="M545.3,801 Q544.1,810 545.3,820 T545.3,839" fill="none" stroke="#3a3a3a" stroke-width="0.95"/>
<path d="M548.6,801 Q547.4,810 548.6,820 T548.6,839" fill="none" stroke="#3a3a3a" stroke-width="0.95"/>
<path d="M551.9,801 Q550.7,810 551.9,820 T551.9,839" fill="none" stroke="#3a3a3a" stroke-width="0.95"/>
<path d="M553,802 L558,796 L567.2,789.8" fill="none" stroke="#454545" stroke-width="0.8"/>
<polygon points="553,802 557.6,798.67 555.45,796.88" fill="#111"/>
<text x="591.2" y="794.4" font-size="9.3" text-anchor="middle" fill="#333" textLength="41.6" lengthAdjust="spacingAndGlyphs">G 1/2&quot; ISO</text>
<line x1="359.6" y1="788.5" x2="359.6" y2="852.2" stroke="#888" stroke-width="1.4"/>
<line x1="359.6" y1="788.5" x2="372.6" y2="788.5" stroke="#454545" stroke-width="0.8"/>
<line x1="359.6" y1="852.2" x2="372.6" y2="852.2" stroke="#454545" stroke-width="0.8"/>
<polygon points="359.6,788.5 358.6,792.5 360.6,792.5" fill="#111"/>
<polygon points="359.6,852.2 358.6,848.2 360.6,848.2" fill="#111"/>
<text x="354.8" y="822.06" font-size="8.5" text-anchor="middle" fill="#1a1a1a" textLength="6.5" lengthAdjust="spacingAndGlyphs" transform="rotate(-90 354.8 819)">34</text>
<text x="823.2" y="615.3" font-size="14.5" text-anchor="start" fill="#1a1a1a" textLength="36" lengthAdjust="spacingAndGlyphs">G1/2&quot;</text>
<line x1="821.2" y1="619.1" x2="834.3" y2="619.1" stroke="#454545" stroke-width="1.0"/>
<line x1="848.3" y1="619.1" x2="861.3" y2="619.1" stroke="#454545" stroke-width="1.0"/>
<polygon points="834.3,619.1 826.3,616.7 826.3,621.5" fill="#111"/>
<polygon points="848.3,619.1 856.3,616.7 856.3,621.5" fill="#111"/>
<line x1="834.3" y1="619" x2="834.3" y2="637" stroke="#454545" stroke-width="1.0"/>
<line x1="848.3" y1="619" x2="848.3" y2="637" stroke="#454545" stroke-width="1.0"/>
<rect x="834.3" y="641.4" width="14" height="8.5" fill="none" stroke="#454545" stroke-width="1.0"/>
<path d="M837.6,649.9 A3.4,4 0 0 1 844.8,649.9" fill="none" stroke="#454545" stroke-width="0.9"/>
<path d="M832,650.4 L850.8,650.4 L851.6,651.5 L851.6,665.7 L831.2,665.7 L831.2,651.5 Z" fill="none" stroke="#454545" stroke-width="1.0"/>
<line x1="831.2" y1="660.3" x2="851.6" y2="660.3" stroke="#454545" stroke-width="1.0"/>
<path d="M829.4,666.5 L831.2,665 M853.4,666.5 L851.6,665" fill="none" stroke="#454545" stroke-width="1"/>
<rect x="772.4" y="666.9" width="137.7" height="6" fill="none" stroke="#454545" stroke-width="1.0" rx="1"/>
<line x1="852.3" y1="641.4" x2="933" y2="641.4" stroke="#454545" stroke-width="1.0"/>
<line x1="932" y1="641.4" x2="932" y2="672.8" stroke="#454545" stroke-width="1.0"/>
<line x1="914" y1="672.8" x2="933" y2="672.8" stroke="#454545" stroke-width="1.0"/>
<polygon points="932,641.4 929.5,650.4 934.5,650.4" fill="#111"/>
<polygon points="932,672.8 929.5,663.8 934.5,663.8" fill="#111"/>
<text x="923.3" y="661.32" font-size="14.5" text-anchor="middle" fill="#1a1a1a" textLength="16.2" lengthAdjust="spacingAndGlyphs" transform="rotate(-90 923.3 656.1)">55</text>
<ellipse cx="841.2" cy="809" rx="68.2" ry="69" fill="none" stroke="#3a3a3a" stroke-width="1.3"/>
<circle cx="841.5" cy="809" r="11.4" fill="none" stroke="#9a9a9a" stroke-width="3.4"/>
<circle cx="841.5" cy="809" r="10.1" fill="none" stroke="#5a5a5a" stroke-width="1"/>
<circle cx="841.5" cy="809" r="5" fill="none" stroke="#666" stroke-width="3"/>
<circle cx="841.5" cy="809" r="1.5" fill="#666" stroke="none" stroke-width="0"/>
<ellipse cx="841.2" cy="749.5" rx="1.9" ry="2.2" fill="none" stroke="#333" stroke-width="1.2"/>
<ellipse cx="803.4" cy="763.3" rx="1.9" ry="2.2" fill="none" stroke="#333" stroke-width="1.2"/>
<ellipse cx="879.4" cy="763.3" rx="1.9" ry="2.2" fill="none" stroke="#333" stroke-width="1.2"/>
<ellipse cx="783.4" cy="798.7" rx="1.9" ry="2.2" fill="none" stroke="#333" stroke-width="1.2"/>
<ellipse cx="899.4" cy="798.7" rx="1.9" ry="2.2" fill="none" stroke="#333" stroke-width="1.2"/>
<ellipse cx="790.4" cy="838.6" rx="1.9" ry="2.2" fill="none" stroke="#333" stroke-width="1.2"/>
<ellipse cx="892.4" cy="838.6" rx="1.9" ry="2.2" fill="none" stroke="#333" stroke-width="1.2"/>
<ellipse cx="821.4" cy="865" rx="1.9" ry="2.2" fill="none" stroke="#333" stroke-width="1.2"/>
<ellipse cx="861.4" cy="865" rx="1.9" ry="2.2" fill="none" stroke="#333" stroke-width="1.2"/>
<line x1="840" y1="739.6" x2="933" y2="739.6" stroke="#454545" stroke-width="1.0"/>
<line x1="840" y1="878" x2="933" y2="878" stroke="#454545" stroke-width="1.0"/>
<line x1="932" y1="739.6" x2="932" y2="878" stroke="#454545" stroke-width="1.0"/>
<polygon points="932,739.6 929.5,748.6 934.5,748.6" fill="#111"/>
<polygon points="932,878 929.5,869 934.5,869" fill="#111"/>
<text x="924.2" y="814.72" font-size="14.5" text-anchor="middle" fill="#1a1a1a" textLength="35" lengthAdjust="spacingAndGlyphs" transform="rotate(-90 924.2 809.5)">Ø250</text>
</svg></body></html>
